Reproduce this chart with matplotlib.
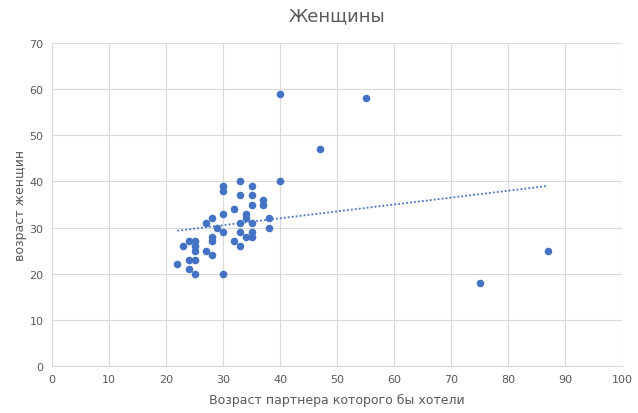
import numpy as np
import matplotlib.pyplot as plt

# desired partner age (x) vs women's age (y)
partner_age = [30, 30, 33, 35, 40, 33, 35, 37, 37, 35, 32, 34, 34, 30, 27, 28,
               33, 35, 38, 38, 29, 30, 33, 34, 35, 35, 24, 25, 28, 28, 32, 33,
               23, 25, 25, 27, 28, 24, 25, 22, 24, 25, 30,
               40, 55, 47, 75, 87]
women_age = [39, 38, 40, 39, 40, 37, 37, 36, 35, 35, 34, 33, 32, 33, 31, 32,
             31, 31, 32, 30, 30, 29, 29, 28, 29, 28, 27, 27, 28, 27, 27, 26,
             26, 26, 25, 25, 24, 23, 23, 22, 21, 20, 20,
             59, 58, 47, 18, 25]

x = np.array(partner_age)
y = np.array(women_age)

fig = plt.figure(figsize=(6.38, 4.14), dpi=100)
ax = fig.add_axes([52/638, 1 - 367/414, 570/638, 323/414])

ax.scatter(x, y, s=30, color='#4472C4', zorder=3, linewidths=0)

k, b = np.polyfit(x, y, 1)
xs = np.array([x.min(), x.max()])
ax.plot(xs, k * xs + b, linestyle=(0, (1, 1.2)), color='#4472C4', linewidth=1.3, zorder=2)

ax.set_xlim(0, 100)
ax.set_ylim(0, 70)
ax.set_xticks(range(0, 101, 10))
ax.set_yticks(range(0, 71, 10))
ax.grid(True, color='#D9D9D9', linewidth=0.8)
ax.set_axisbelow(True)
for side in ['top', 'right', 'left']:
    ax.spines[side].set_visible(False)
ax.spines['bottom'].set_color('#D9D9D9')
ax.tick_params(length=0, labelsize=8, labelcolor='#595959', pad=6)

ax.set_title('Женщины', fontsize=13, color='#595959', pad=16)
ax.set_xlabel('Возраст партнера которого бы хотели', fontsize=9, color='#595959', labelpad=6)
ax.set_ylabel('возраст женщин', fontsize=9, color='#595959', labelpad=2)

plt.savefig('out.png', dpi=100)
